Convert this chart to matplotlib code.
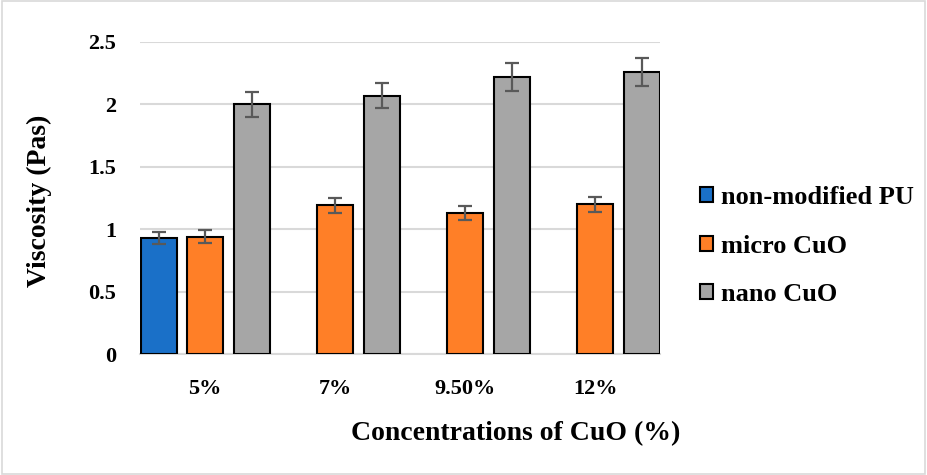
import matplotlib
matplotlib.use("Agg")
import matplotlib.pyplot as plt
import numpy as np
from matplotlib.patches import Rectangle

categories = ["5%", "7%", "9.50%", "12%"]
series_names = ["non-modified PU", "micro CuO", "nano CuO"]
non_modified = [0.93, np.nan, np.nan, np.nan]
non_modified_err = [0.045, 0, 0, 0]
micro = [0.94, 1.19, 1.13, 1.20]
micro_err = [0.05, 0.06, 0.055, 0.06]
nano = [2.00, 2.07, 2.22, 2.26]
nano_err = [0.10, 0.10, 0.11, 0.115]
colors = ["#1a70c8", "#ff7f27", "#a6a6a6"]

plt.rcParams['font.family'] = ['Liberation Serif', 'DejaVu Serif']
plt.rcParams['font.weight'] = 'bold'

fig = plt.figure(figsize=(9.27, 4.75), dpi=100)
ax = fig.add_axes([0.151, 0.2547, 0.561, 0.657])

x = np.arange(len(categories))
w = 0.277
offsets = [-0.355, 0.0, 0.36]
vals = [non_modified, micro, nano]
errs = [non_modified_err, micro_err, nano_err]
for i in range(3):
    v = np.array(vals[i], dtype=float)
    e = np.array(errs[i], dtype=float)
    mask = ~np.isnan(v)
    ax.bar(x[mask] + offsets[i], v[mask], width=w, color=colors[i],
           edgecolor="black", linewidth=1.5, label=series_names[i], zorder=3)
    ax.errorbar(x[mask] + offsets[i], v[mask], yerr=e[mask], fmt='none',
                ecolor="#595959", elinewidth=1.6, capsize=5, capthick=1.6, zorder=4)

ax.set_xlim(-0.5, 3.5)
ax.set_ylim(0, 2.5)
ax.set_yticks([0, 0.5, 1, 1.5, 2, 2.5])
ax.set_yticklabels(["0", "0.5", "1", "1.5", "2", "2.5"], fontsize=16, fontweight='bold')
ax.set_xticks(x)
ax.set_xticklabels(categories, fontsize=16, fontweight='bold')
ax.tick_params(axis='both', length=0)
ax.tick_params(axis='x', pad=18)
ax.tick_params(axis='y', pad=17)
ax.yaxis.grid(True, color="#d9d9d9", linewidth=1.5, zorder=0)
ax.set_axisbelow(True)
for s in ["top", "right", "left"]:
    ax.spines[s].set_visible(False)
ax.spines["bottom"].set_color("#d9d9d9")
ax.spines["bottom"].set_linewidth(1.5)

fig.text(0.556, 0.088, "Concentrations of CuO (%)", fontsize=20, fontweight='bold',
         ha='center', va='center')
fig.text(0.042, 0.578, "Viscosity (Pas)", fontsize=20, fontweight='bold',
         ha='center', va='center', rotation=90)

leg = ax.legend(loc='center left', bbox_to_anchor=(1.077, 0.346), frameon=False,
                handlelength=0.5, handleheight=0.5, handletextpad=0.3,
                labelspacing=0.97, borderpad=0, borderaxespad=0,
                prop={'weight': 'bold', 'size': 19})

fig.patches.append(Rectangle((0.002, 0.003), 0.996, 0.994, transform=fig.transFigure,
                             fill=False, edgecolor="#d9d9d9", linewidth=1.2))

fig.savefig("out.png", dpi=100)
